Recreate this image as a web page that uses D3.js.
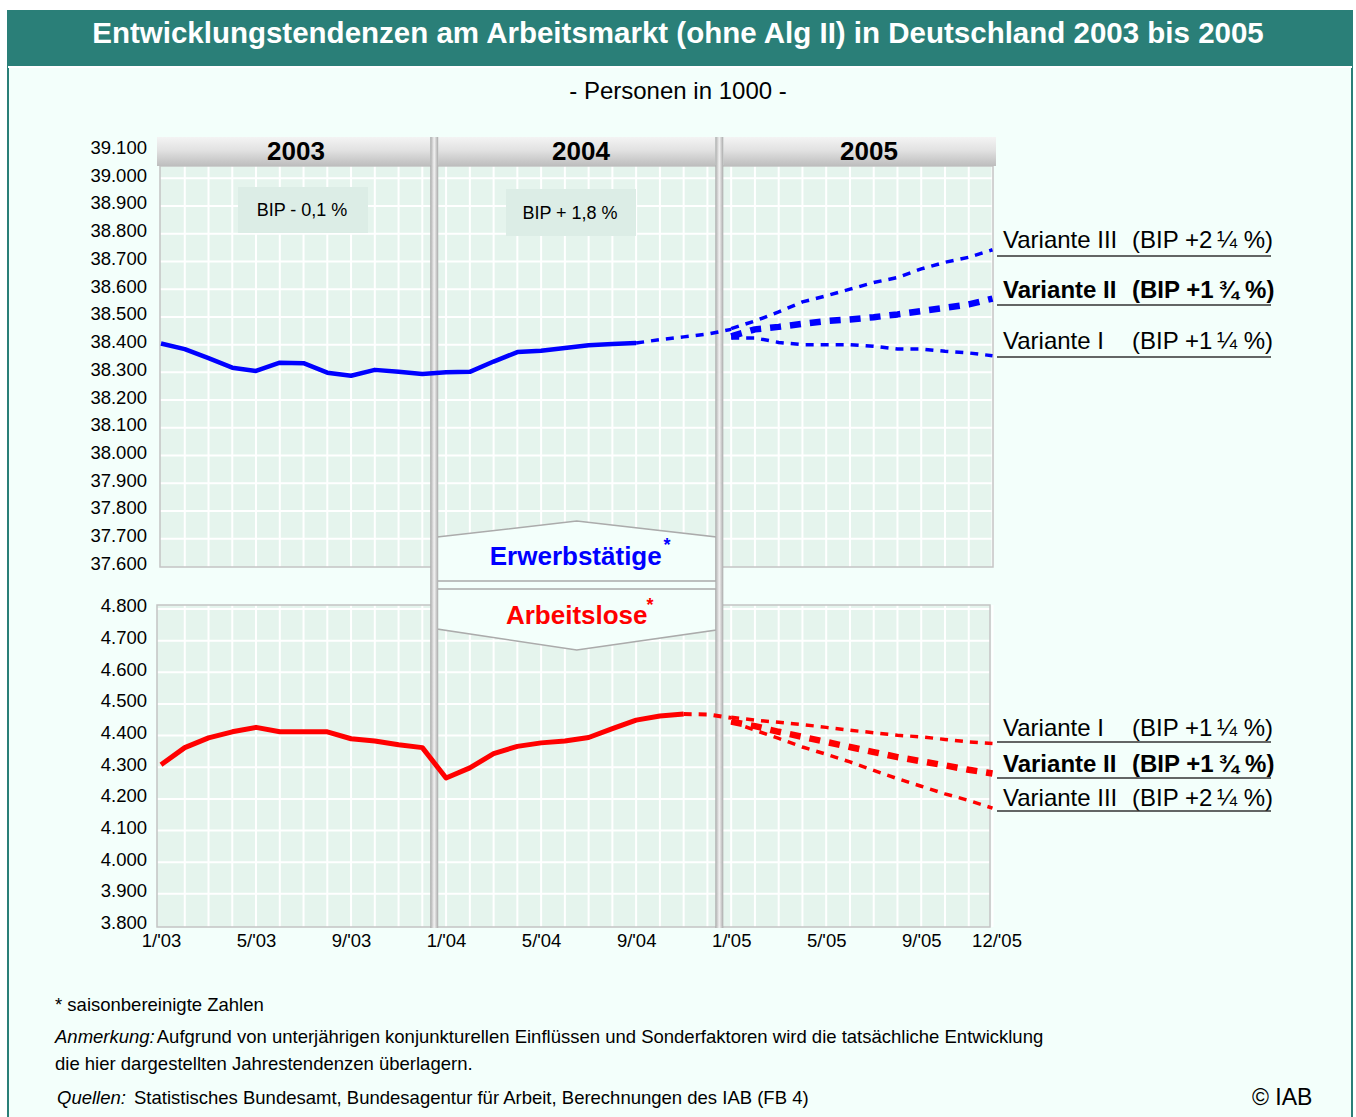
<!DOCTYPE html>
<html>
<head>
<meta charset="utf-8">
<script src="https://cdn.jsdelivr.net/npm/d3@7"></script>
<style>
body { margin: 0; background: #fff; }
text { font-family: "Liberation Sans", Arial, sans-serif; }
</style>
</head>
<body>
<svg id="chart" width="1356" height="1117"></svg>
<script>
var svg = d3.select('#chart');

// month index 0 = Jan 2003, 35 = Dec 2005
var years = ['2003', '2004', '2005'];
var xTickMonths = [0, 4, 8, 12, 16, 20, 24, 28, 32, 35];
var xTickLabels = ["1/'03", "5/'03", "9/'03", "1/'04", "5/'04", "9/'04", "1/'05", "5/'05", "9/'05", "12/'05"];
var upperTicks = [37600, 37700, 37800, 37900, 38000, 38100, 38200, 38300, 38400, 38500, 38600, 38700, 38800, 38900, 39000, 39100];
var lowerTicks = [3800, 3900, 4000, 4100, 4200, 4300, 4400, 4500, 4600, 4700, 4800];

// Erwerbstaetige, Jan 2003 - Sep 2004
var erwActual = [38404, 38384, 38351, 38317, 38305, 38335, 38333, 38299, 38288, 38309, 38302, 38294,
                 38300, 38302, 38339, 38373, 38378, 38388, 38398, 38402, 38406];
// Sep 2004 - Jan 2005
var erwBridge = [38406, 38418, 38428, 38438, 38455];
// 2005 variants, Jan - Dec
var erwVar3 = [38458, 38485, 38518, 38554, 38576, 38600, 38624, 38642, 38673, 38697, 38715, 38742];
var erwVar2 = [38430, 38455, 38464, 38475, 38485, 38491, 38499, 38509, 38521, 38533, 38545, 38566];
var erwVar1 = [38424, 38424, 38408, 38400, 38400, 38400, 38394, 38384, 38384, 38376, 38370, 38360];

// Arbeitslose, Jan 2003 - Nov 2004
var alActual = [4308, 4362, 4393, 4412, 4426, 4412, 4412, 4412, 4390, 4383, 4371, 4362,
                4266, 4298, 4343, 4366, 4377, 4383, 4394, 4422, 4449, 4462, 4468];
// Nov 2004 - Jan 2005
var alBridge = [4468, 4467, 4456];
var alVar1 = [4458, 4449, 4442, 4435, 4426, 4417, 4409, 4401, 4396, 4388, 4380, 4375];
var alVar2 = [4444, 4430, 4412, 4396, 4380, 4364, 4348, 4332, 4319, 4306, 4292, 4280];
var alVar3 = [4444, 4417, 4391, 4364, 4341, 4317, 4290, 4264, 4240, 4216, 4195, 4171];

var upperLabels = [
    {name: 'Variante III', bip: '(BIP +2\u2009\u00BC %)', bold: false},
    {name: 'Variante II', bip: '(BIP +1\u2009\u00BE %)', bold: true},
    {name: 'Variante I', bip: '(BIP +1\u2009\u00BC %)', bold: false}
];
var lowerLabels = [
    {name: 'Variante I', bip: '(BIP +1\u2009\u00BC %)', bold: false},
    {name: 'Variante II', bip: '(BIP +1\u2009\u00BE %)', bold: true},
    {name: 'Variante III', bip: '(BIP +2\u2009\u00BC %)', bold: false}
];

var fmt = d3.formatLocale({decimal: ',', thousands: '.', grouping: [3], currency: ['', ' \u20AC']}).format(',');

var x = d3.scaleLinear().domain([0, 35]).range([161, 992.5]);
var yUp = d3.scaleLinear().domain([37600, 39100]).range([566.5, 150.5]);
var yLow = d3.scaleLinear().domain([3800, 4800]).range([925.5, 609]);

var upperBox = {x0: 160, x1: 993, y0: 166, y1: 567};
var lowerBox = {x0: 157, x1: 990, y0: 605, y1: 927};

var pageBg = '#f3fffb';
var plotBg = '#e5f4ed';
var teal = '#2a7f78';

// gradients
var defs = svg.append('defs');
var hg = defs.append('linearGradient').attr('id', 'headGrad').attr('x1', 0).attr('x2', 0).attr('y1', 0).attr('y2', 1);
hg.append('stop').attr('offset', '0%').attr('stop-color', '#f4f4f4');
hg.append('stop').attr('offset', '45%').attr('stop-color', '#e2e2e2');
hg.append('stop').attr('offset', '100%').attr('stop-color', '#bdbdbd');
var sg = defs.append('linearGradient').attr('id', 'sepGrad');
sg.append('stop').attr('offset', '0%').attr('stop-color', '#a9a9a9');
sg.append('stop').attr('offset', '50%').attr('stop-color', '#f2f2f2');
sg.append('stop').attr('offset', '100%').attr('stop-color', '#a9a9a9');

// page + title
svg.append('rect').attr('x', 7).attr('y', 10).attr('width', 1346).attr('height', 1107).attr('fill', pageBg);
svg.append('rect').attr('x', 7).attr('y', 10).attr('width', 1346).attr('height', 56).attr('fill', teal);
svg.append('line').attr('x1', 8).attr('x2', 8).attr('y1', 10).attr('y2', 1117).attr('stroke', teal).attr('stroke-width', 2);
svg.append('line').attr('x1', 1352).attr('x2', 1352).attr('y1', 10).attr('y2', 1117).attr('stroke', teal).attr('stroke-width', 2);
svg.append('line').attr('x1', 8).attr('x2', 1352).attr('y1', 67).attr('y2', 67).attr('stroke', '#fff').attr('stroke-width', 2);

svg.append('text')
    .attr('x', 678).attr('y', 43)
    .attr('text-anchor', 'middle')
    .style('font-size', '29.5px').style('font-weight', 'bold')
    .attr('fill', '#fff')
    .text('Entwicklungstendenzen am Arbeitsmarkt (ohne Alg II) in Deutschland 2003 bis 2005');

svg.append('text')
    .attr('x', 678).attr('y', 99)
    .attr('text-anchor', 'middle')
    .style('font-size', '24px')
    .text('- Personen in 1000 -');

// plot backgrounds + grid
function drawPanel(box, yScale, ticks) {
    var g = svg.append('g');
    g.append('rect')
        .attr('x', box.x0).attr('y', box.y0)
        .attr('width', box.x1 - box.x0).attr('height', box.y1 - box.y0)
        .attr('fill', plotBg);
    g.selectAll('.hgrid')
        .data(ticks.filter(function(t) { var yy = yScale(t); return yy > box.y0 + 2 && yy < box.y1 - 2; }))
        .enter().append('line')
        .attr('x1', box.x0).attr('x2', box.x1)
        .attr('y1', function(d) { return yScale(d); })
        .attr('y2', function(d) { return yScale(d); })
        .attr('stroke', '#fff').attr('stroke-width', 2);
    g.selectAll('.vgrid')
        .data(d3.range(1, 36))
        .enter().append('line')
        .attr('x1', function(d) { return x(d); })
        .attr('x2', function(d) { return x(d); })
        .attr('y1', box.y0).attr('y2', box.y1)
        .attr('stroke', '#fff').attr('stroke-width', 2);
    g.append('rect')
        .attr('x', box.x0).attr('y', box.y0)
        .attr('width', box.x1 - box.x0).attr('height', box.y1 - box.y0)
        .attr('fill', 'none').attr('stroke', '#c4c4c4').attr('stroke-width', 1.5);
    return g;
}
drawPanel(upperBox, yUp, upperTicks);
drawPanel(lowerBox, yLow, lowerTicks);

// BIP boxes
var bipBoxes = [{x: 238, y: 187, w: 130, h: 46, t: 'BIP - 0,1 %'}, {x: 506, y: 189, w: 130, h: 47, t: 'BIP + 1,8 %'}];
bipBoxes.forEach(function(b) {
    svg.append('rect').attr('x', b.x).attr('y', b.y).attr('width', b.w).attr('height', b.h).attr('fill', '#dcede6');
    svg.append('text').attr('x', b.x + b.w / 2 - 1).attr('y', b.y + b.h / 2 + 6)
        .attr('text-anchor', 'middle').style('font-size', '18px').text(b.t);
});

// year header band
var sepMonths = [11.5, 23.5];
var headEdges = [157, x(sepMonths[0]), x(sepMonths[1]), 996];
var yearLabelX = [296, 581, 869];
years.forEach(function(yr, i) {
    var a = headEdges[i] + (i > 0 ? 4 : 0), b = headEdges[i + 1] - (i < 2 ? 4 : 0);
    svg.append('rect').attr('x', a).attr('y', 137).attr('width', b - a).attr('height', 29).attr('fill', 'url(#headGrad)');
    svg.append('text').attr('x', yearLabelX[i]).attr('y', 160)
        .attr('text-anchor', 'middle')
        .style('font-size', '26px').style('font-weight', 'bold')
        .text(yr);
});

// middle label boxes
var midL = x(sepMonths[0]) + 3, midR = x(sepMonths[1]) - 3, midC = (midL + midR) / 2;
svg.append('path')
    .attr('d', 'M' + midL + ',537 L' + midC + ',521 L' + midR + ',537 L' + midR + ',581 L' + midL + ',581 Z')
    .attr('fill', pageBg).attr('stroke', '#ababab').attr('stroke-width', 1.5);
svg.append('path')
    .attr('d', 'M' + midL + ',589 L' + midR + ',589 L' + midR + ',630 L' + midC + ',650 L' + midL + ',629 Z')
    .attr('fill', pageBg).attr('stroke', '#ababab').attr('stroke-width', 1.5);

// separators
sepMonths.forEach(function(m) {
    svg.append('rect').attr('x', x(m) - 4).attr('y', 137).attr('width', 8).attr('height', 791)
        .attr('fill', 'url(#sepGrad)');
});

svg.append('text').attr('x', midC - 1).attr('y', 565)
    .attr('text-anchor', 'middle').style('font-size', '26px').style('font-weight', 'bold')
    .attr('fill', '#0000ff').text('Erwerbstätige');
svg.append('text').attr('x', 667).attr('y', 551)
    .attr('text-anchor', 'middle').style('font-size', '18px').style('font-weight', 'bold')
    .attr('fill', '#0000ff').text('*');
svg.append('text').attr('x', midC).attr('y', 624)
    .attr('text-anchor', 'middle').style('font-size', '26px').style('font-weight', 'bold')
    .attr('fill', '#ff0000').text('Arbeitslose');
svg.append('text').attr('x', 650).attr('y', 611)
    .attr('text-anchor', 'middle').style('font-size', '18px').style('font-weight', 'bold')
    .attr('fill', '#ff0000').text('*');

// data lines
function series(values, startMonth, yScale) {
    return d3.line()
        .x(function(d, i) { return x(startMonth + i); })
        .y(function(d) { return yScale(d); })(values);
}
var lines = svg.append('g').attr('fill', 'none').attr('stroke-linejoin', 'round');

lines.append('path').attr('d', series(erwActual, 0, yUp)).attr('stroke', '#0000ff').attr('stroke-width', 4.5);
lines.append('path').attr('d', series(erwBridge, 20, yUp)).attr('stroke', '#0000ff').attr('stroke-width', 3.5).attr('stroke-dasharray', '8,7');
lines.append('path').attr('d', series(erwVar3, 24, yUp)).attr('stroke', '#0000ff').attr('stroke-width', 3.5).attr('stroke-dasharray', '8,7');
lines.append('path').attr('d', series(erwVar2, 24, yUp)).attr('stroke', '#0000ff').attr('stroke-width', 6.5).attr('stroke-dasharray', '11,9');
lines.append('path').attr('d', series(erwVar1, 24, yUp)).attr('stroke', '#0000ff').attr('stroke-width', 3.5).attr('stroke-dasharray', '8,7');

lines.append('path').attr('d', series(alActual, 0, yLow)).attr('stroke', '#ff0000').attr('stroke-width', 5);
lines.append('path').attr('d', series(alBridge, 22, yLow)).attr('stroke', '#ff0000').attr('stroke-width', 4).attr('stroke-dasharray', '8,7');
lines.append('path').attr('d', series(alVar1, 24, yLow)).attr('stroke', '#ff0000').attr('stroke-width', 3.5).attr('stroke-dasharray', '8,7');
lines.append('path').attr('d', series(alVar2, 24, yLow)).attr('stroke', '#ff0000').attr('stroke-width', 6.5).attr('stroke-dasharray', '11,9');
lines.append('path').attr('d', series(alVar3, 24, yLow)).attr('stroke', '#ff0000').attr('stroke-width', 3.5).attr('stroke-dasharray', '8,7');

// variant labels
function drawLabels(labels, baselines, underlines) {
    labels.forEach(function(l, i) {
        var t = svg.append('text').attr('y', baselines[i]).style('font-size', '24px')
            .style('font-weight', l.bold ? 'bold' : 'normal');
        t.append('tspan').attr('x', 1003).text(l.name);
        t.append('tspan').attr('x', 1132).text(l.bip);
        svg.append('line').attr('x1', 997).attr('x2', 1271)
            .attr('y1', underlines[i]).attr('y2', underlines[i])
            .attr('stroke', '#333').attr('stroke-width', 1.5);
    });
}
drawLabels(upperLabels, [248, 298, 349], [256, 305, 357]);
drawLabels(lowerLabels, [736, 772, 806], [742, 778, 811]);

// axes
var yAxisUp = d3.axisLeft(yUp).tickValues(upperTicks).tickFormat(fmt).tickSize(0).tickPadding(0);
var yAxisLow = d3.axisLeft(yLow).tickValues(lowerTicks).tickFormat(fmt).tickSize(0).tickPadding(0);
var xAxis = d3.axisBottom(x).tickValues(xTickMonths)
    .tickFormat(function(d, i) { return xTickLabels[i]; }).tickSize(0).tickPadding(0);

[[yAxisUp, 'translate(147,-3)'], [yAxisLow, 'translate(147,-3)'], [xAxis, 'translate(0,934)']].forEach(function(a) {
    var g = svg.append('g').attr('transform', a[1]).call(a[0]);
    g.select('.domain').remove();
    g.selectAll('text').style('font-size', '18.5px').style('font-family', '"Liberation Sans", Arial, sans-serif').attr('fill', '#000');
});
// last x label sits slightly right of its tick in the original
svg.selectAll('.tick text').filter(function(d) { return d === 35; }).attr('dx', 4);

// notes
var notes = svg.append('g').style('font-size', '18.5px');
notes.append('text').attr('x', 55).attr('y', 1011).text('* saisonbereinigte Zahlen');
var an = notes.append('text').attr('x', 55).attr('y', 1043);
an.append('tspan').style('font-style', 'italic').text('Anmerkung:');
an.append('tspan').attr('dx', 2).text('Aufgrund von unterjährigen konjunkturellen Einflüssen und Sonderfaktoren wird die tatsächliche Entwicklung');
notes.append('text').attr('x', 55).attr('y', 1070).text('die hier dargestellten Jahrestendenzen überlagern.');
notes.append('text').attr('x', 57).attr('y', 1104).style('font-style', 'italic').text('Quellen:');
notes.append('text').attr('x', 134).attr('y', 1104).text('Statistisches Bundesamt, Bundesagentur für Arbeit, Berechnungen des IAB (FB 4)');
svg.append('text').attr('x', 1252).attr('y', 1105).style('font-size', '23px').text('\u00A9 IAB');
</script>
</body>
</html>
